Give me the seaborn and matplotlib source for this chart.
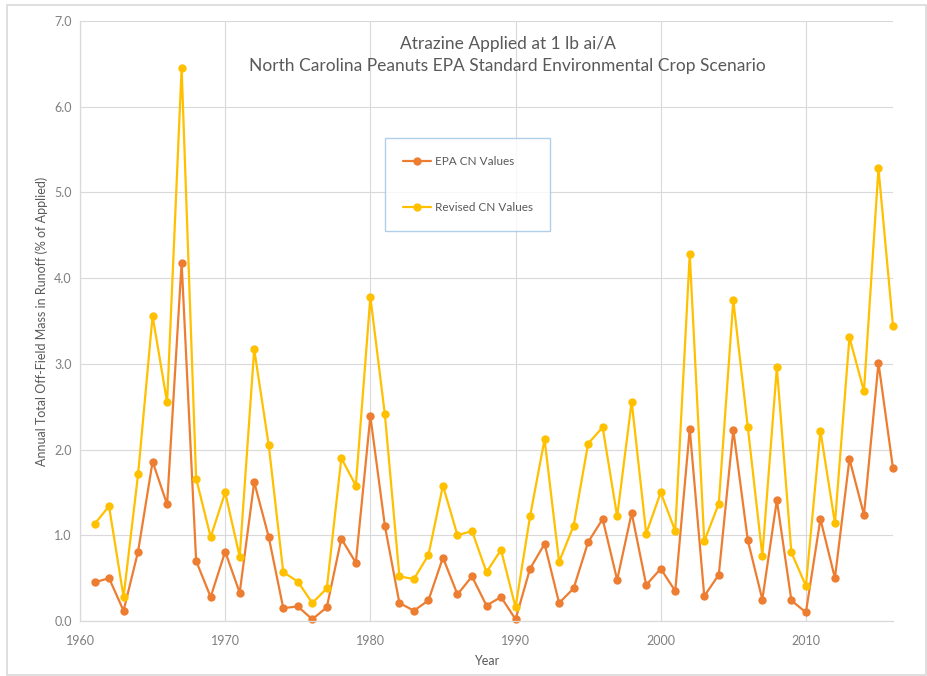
import numpy as np
import pandas as pd
import matplotlib
matplotlib.use("Agg")
import matplotlib.pyplot as plt
from matplotlib.ticker import MultipleLocator
from matplotlib.patches import Rectangle
import seaborn as sns

# Data
years = list(range(1961, 2017))
epa_cn = [0.45, 0.50, 0.12, 0.81, 1.86, 1.36, 4.18, 0.70, 0.28, 0.81,
          0.33, 1.62, 0.98, 0.15, 0.17, 0.02, 0.16, 0.96, 0.68, 2.39,
          1.11, 0.21, 0.12, 0.24, 0.74, 0.31, 0.52, 0.18, 0.28, 0.02,
          0.61, 0.90, 0.21, 0.38, 0.92, 1.19, 0.48, 1.26, 0.42, 0.61,
          0.35, 2.24, 0.29, 0.54, 2.23, 0.94, 0.25, 1.41, 0.24, 0.10,
          1.19, 0.50, 1.89, 1.24, 3.01, 1.78]
revised_cn = [1.13, 1.34, 0.28, 1.71, 3.56, 2.55, 6.45, 1.66, 0.98, 1.50,
              0.75, 3.17, 2.05, 0.57, 0.46, 0.21, 0.38, 1.90, 1.58, 3.78,
              2.41, 0.52, 0.49, 0.77, 1.58, 1.00, 1.05, 0.57, 0.83, 0.16,
              1.22, 2.12, 0.69, 1.11, 2.07, 2.26, 1.22, 2.56, 1.02, 1.50,
              1.05, 4.28, 0.93, 1.37, 3.74, 2.26, 0.76, 2.96, 0.80, 0.41,
              2.22, 1.14, 3.31, 2.68, 5.28, 3.44]

df = pd.DataFrame({"Year": years, "EPA CN Values": epa_cn,
                   "Revised CN Values": revised_cn})

sns.set_style("white")
plt.rcParams['font.family'] = ['Lato', 'DejaVu Sans']

grey_text = "#595959"
tick_grey = "#7f7f7f"
grid_c = "#d9d9d9"

fig = plt.figure(figsize=(9.27, 6.76), dpi=100)
ax = fig.add_axes([80 / 927, 1 - 621 / 676, (893 - 80) / 927, (621 - 21) / 676])

sns.lineplot(data=df, x="Year", y="EPA CN Values", ax=ax, color="#ed7d31",
             marker="o", markersize=6, markeredgewidth=0, linewidth=1.6,
             label="EPA CN Values", clip_on=False)
sns.lineplot(data=df, x="Year", y="Revised CN Values", ax=ax, color="#ffc000",
             marker="o", markersize=6, markeredgewidth=0, linewidth=1.6,
             label="Revised CN Values", clip_on=False)

ax.set_xlim(1960, 2016)
ax.set_ylim(0, 7)
ax.xaxis.set_major_locator(MultipleLocator(10))
ax.xaxis.set_minor_locator(MultipleLocator(2))
ax.yaxis.set_major_locator(MultipleLocator(1))
ax.yaxis.set_minor_locator(MultipleLocator(0.2))
ax.yaxis.set_major_formatter(matplotlib.ticker.FormatStrFormatter("%.1f"))

ax.grid(True, which="major", color=grid_c, linewidth=0.8)
for side in ["top", "right"]:
    ax.spines[side].set_visible(False)
for side in ["left", "bottom"]:
    ax.spines[side].set_color(grid_c)
    ax.spines[side].set_linewidth(0.9)

ax.tick_params(axis="both", which="major", length=0, labelsize=9,
               labelcolor=tick_grey, pad=6)
ax.tick_params(axis="both", which="minor", length=4, color=grid_c,
               direction="out")
ax.tick_params(axis="x", which="major", length=4, color=grid_c, direction="out")

ax.set_xlabel("Year", fontsize=9, color=grey_text, labelpad=6)
ax.set_ylabel("Annual Total Off-Field Mass in Runoff (% of Applied)",
              fontsize=9, color=grey_text, labelpad=4)

ax.text(0.526, 0.975, "Atrazine Applied at 1 lb ai/A\n"
        "North Carolina Peanuts EPA Standard Environmental Crop Scenario",
        transform=ax.transAxes, ha="center", va="top", fontsize=12.5,
        color=grey_text, linespacing=1.5)

leg = ax.legend(loc="upper left", bbox_to_anchor=((385 - 80) / 813, 1 - (138 - 21) / 600),
                frameon=True, fancybox=False, fontsize=8.5, labelspacing=3.0,
                borderpad=1.5, handlelength=2.4, handletextpad=0.3,
                borderaxespad=0)
leg.get_frame().set_edgecolor("#9dc3e6")
leg.get_frame().set_linewidth(1.0)
for t in leg.get_texts():
    t.set_color(grey_text)

# light outer frame around the whole chart
fig.patches.append(Rectangle((7 / 927, 1 / 676), 1 - 8 / 927, 1 - 6 / 676,
                             transform=fig.transFigure, fill=False,
                             edgecolor="#d9d9d9", linewidth=1.2))

fig.savefig("out.png", dpi=100)
